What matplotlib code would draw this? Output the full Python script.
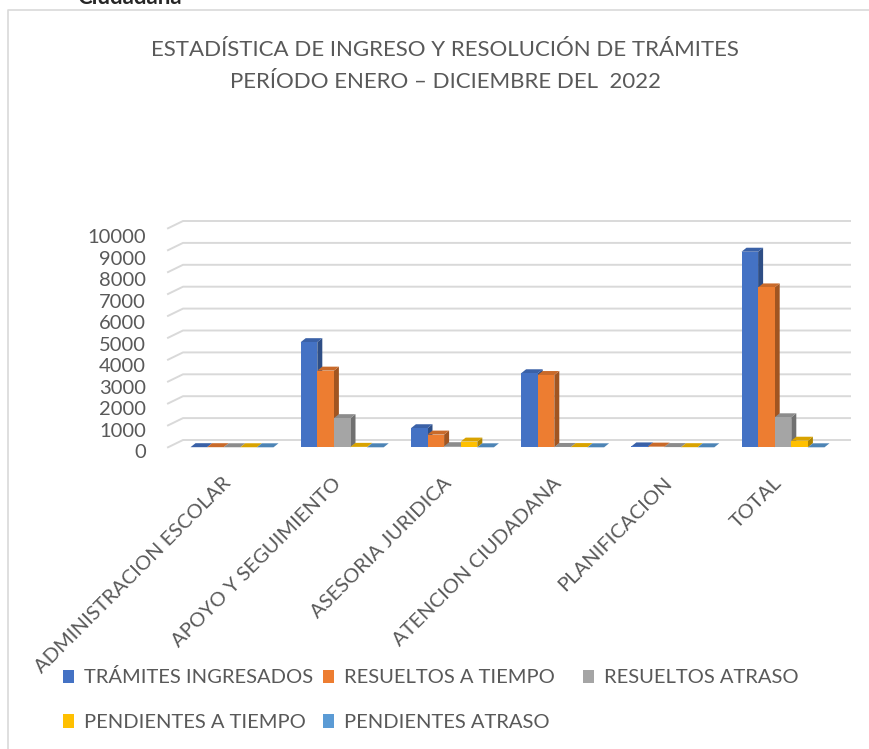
import matplotlib
matplotlib.use("Agg")
import matplotlib.pyplot as plt
from matplotlib.patches import Polygon, Rectangle
from matplotlib.lines import Line2D
import numpy as np

# ---------------- data ----------------
categories = ["ADMINISTRACION ESCOLAR", "APOYO Y SEGUIMIENTO", "ASESORIA JURIDICA",
              "ATENCION CIUDADANA", "PLANIFICACION", "TOTAL"]
tramites_ingresados = [5, 4800, 870, 3380, 40, 8930]
resueltos_a_tiempo = [5, 3500, 580, 3300, 30, 7300]
resueltos_atraso = [2, 1330, 50, 15, 10, 1370]
pendientes_a_tiempo = [2, 20, 260, 10, 5, 300]
pendientes_atraso = [0, 0, 0, 0, 0, 0]
series_names = ["TRÁMITES INGRESADOS", "RESUELTOS A TIEMPO", "RESUELTOS ATRASO",
                "PENDIENTES A TIEMPO", "PENDIENTES ATRASO"]
ytick_values = [0, 1000, 2000, 3000, 4000, 5000, 6000, 7000, 8000, 9000, 10000]
title_lines = ["ESTADÍSTICA DE INGRESO Y RESOLUCIÓN DE TRÁMITES",
               "PERÍODO ENERO – DICIEMBRE DEL  2022"]

series = [tramites_ingresados, resueltos_a_tiempo, resueltos_atraso,
          pendientes_a_tiempo, pendientes_atraso]
colors = ["#4472C4", "#ED7D31", "#A5A5A5", "#FFC000", "#5B9BD5"]

# ---------------- layout ----------------
W, H = 869, 749
plt.rcParams["font.family"] = ["Lato", "DejaVu Sans"]
TXT = "#595959"
GRID = "#D9D9D9"

fig = plt.figure(figsize=(W / 100, H / 100), dpi=100)
fig.patch.set_facecolor("white")

AX_L, AX_R = 168.0, 850.0
Y0_PX, PX_PER_1000 = 447.3, 21.9
CAT0_PX, PITCH = 232.0, 110.2
ax_h = PX_PER_1000 * 10
ax = fig.add_axes([AX_L / W, (H - Y0_PX) / H, (AX_R - AX_L) / W, ax_h / H])
ax.set_xlim((AX_L - CAT0_PX) / PITCH, (AX_R - CAT0_PX) / PITCH)
ax.set_ylim(0, 10000)
ax.axis("off")

ux = 1.0 / PITCH            # data units per pixel (x)
uy = 1000.0 / PX_PER_1000   # data units per pixel (y)

def xd(px):
    return (px - CAT0_PX) / PITCH

# back wall + side wall gridlines
for v in ytick_values:
    ax.add_line(Line2D([xd(168), xd(183), xd(850)],
                       [v, v + 7.3 * uy, v + 7.3 * uy],
                       color=GRID, lw=1.4, clip_on=False, zorder=1))

# y tick labels
for v in ytick_values:
    off = 10.7 + 0.45 * v / 1000
    ax.text(xd(146), v - off * uy, str(v), ha="right", va="baseline",
            fontsize=14.5, color=TXT, clip_on=False)

# 3D-like bars
def shade(c, f):
    r, g, b = matplotlib.colors.to_rgb(c)
    return (r * f, g * f, b * f)

bw = 16.6 * ux
dx, dy = 5 * ux, 4 * uy
nser = len(series)
for i in range(len(categories)):
    left0 = i - nser * bw / 2
    for j, (vals, col) in enumerate(zip(series, colors)):
        v = vals[i]
        xl = left0 + j * bw
        xr = xl + bw
        z = 3 + i * 0.01 + j * 0.001
        side = Polygon([(xr, 0), (xr + dx, dy), (xr + dx, v + dy), (xr, v)],
                       closed=True, facecolor=shade(col, 0.68), edgecolor="none",
                       zorder=z, clip_on=False)
        top = Polygon([(xl, v), (xr, v), (xr + dx, v + dy), (xl + dx, v + dy)],
                      closed=True, facecolor=shade(col, 0.85), edgecolor="none",
                      zorder=z, clip_on=False)
        ax.add_patch(side)
        ax.add_patch(top)
        ax.bar(xl, v, width=bw, align="edge", color=col, zorder=z,
               linewidth=0, clip_on=False)

# category labels
for i, cat in enumerate(categories):
    ax.text(i, -37 * uy, cat, rotation=45, rotation_mode="anchor",
            ha="right", va="baseline", fontsize=14.5, color=TXT, clip_on=False)

# title
fig.text(445 / W, 1 - 55.5 / H, title_lines[0], ha="center", va="baseline",
         fontsize=16, color=TXT)
fig.text(445 / W, 1 - 87.5 / H, title_lines[1], ha="center", va="baseline",
         fontsize=16, color=TXT)

# cut-off heading at very top
fig.text(77 / W, 1 - 4.5 / H, "Ciudadana", ha="left", va="baseline",
         fontsize=16, fontweight="bold", color="#262626")

# border of chart area
fig.add_artist(Line2D([8 / W, 8 / W, 1.0], [0.0, 1 - 10 / H, 1 - 10 / H],
                      transform=fig.transFigure, color=GRID, lw=1.2))

# legend (manual, Excel-like grid)
leg_pos = [(63, 683), (323, 683), (583, 683), (63, 727.5), (323, 727.5)]
for (lx, lb), name, col in zip(leg_pos, series_names, colors):
    fig.add_artist(Rectangle((lx / W, 1 - lb / H), 11 / W, 13.5 / H,
                             transform=fig.transFigure, facecolor=col,
                             edgecolor="none"))
    fig.text((lx + 21) / W, 1 - lb / H, name, ha="left", va="baseline",
             fontsize=14.5, color=TXT)

fig.savefig("out.png", dpi=100, facecolor="white")
